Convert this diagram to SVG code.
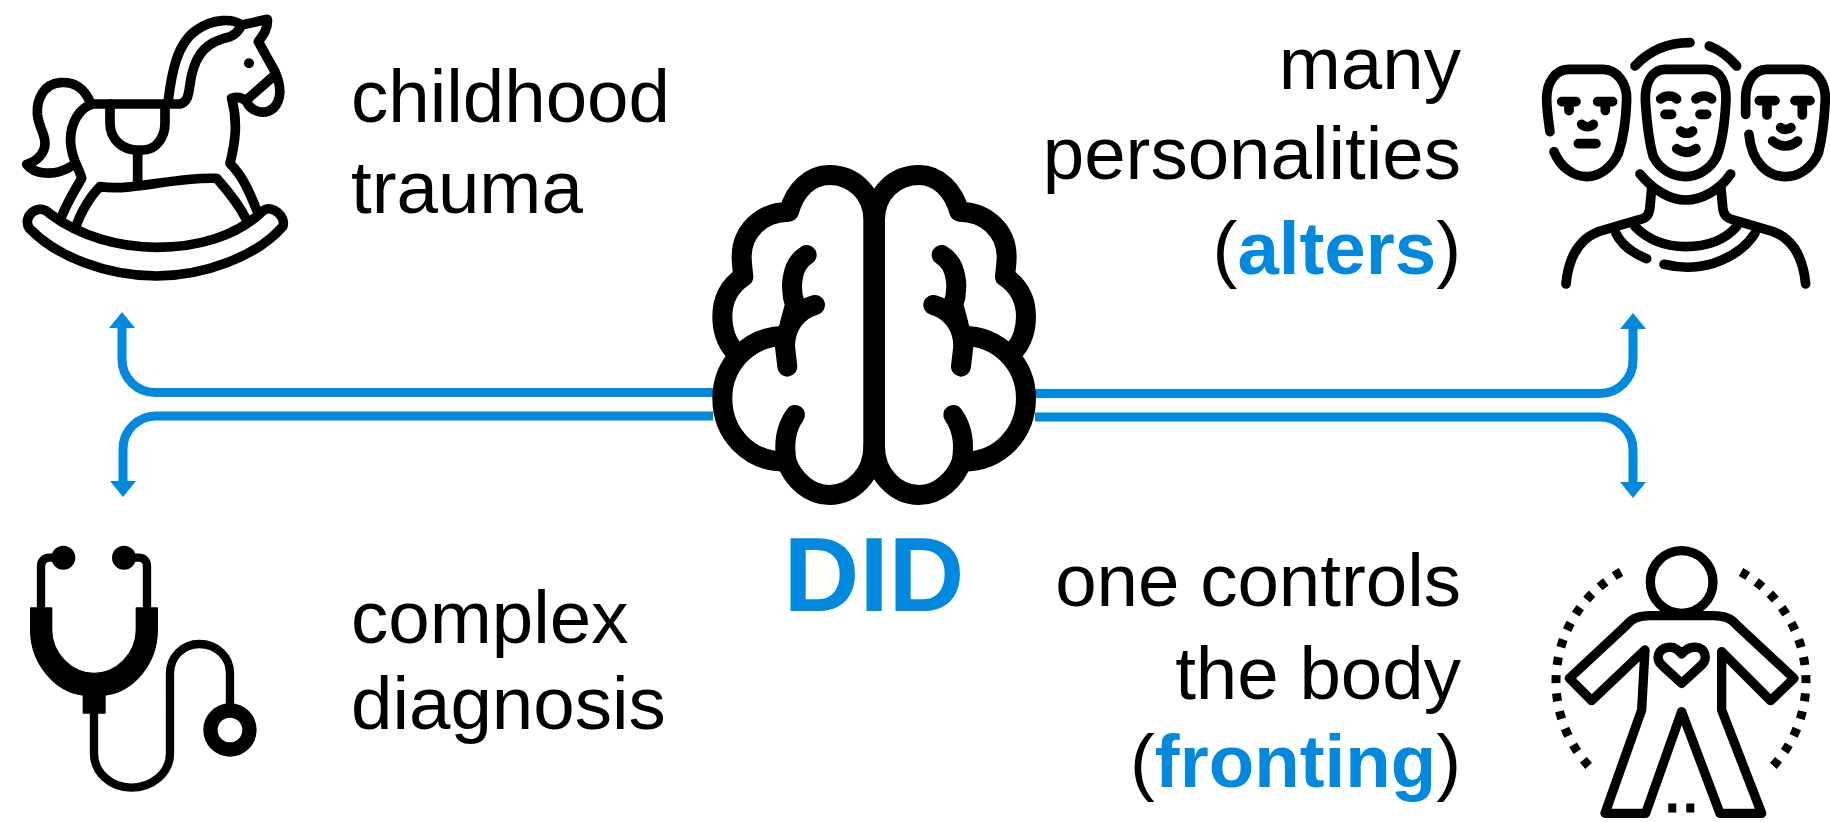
<svg xmlns="http://www.w3.org/2000/svg" width="1830" height="822" viewBox="0 0 1830 822">
<style>
text{font-family:"Liberation Sans",Arial,sans-serif;font-size:74.500px;fill:#000}
.r{text-anchor:end}
.b{font-weight:bold;fill:#0089df}
.i{fill:none;stroke:#000;stroke-linecap:round;stroke-linejoin:round}
.c{fill:none;stroke:#0089df;stroke-width:9}
.h{fill:#0089df}
</style>
<defs>
<g id="brain-half" class="i" stroke-width="60">
<path fill="#fff" stroke="none" d="M550 210C550 130 490 75 418 75C360 75 315 120 297 185C215 185 155 245 155 320C155 340 158 360 160 380C115 410 97 450 97 500C97 540 110 575 130 600C110 640 97 700 97 745C97 850 175 935 280 935C310 990 360 1035 418 1035C490 1035 550 970 550 890Z"/>
<path d="M550 890V210C550 130 490 75 418 75C360 75 315 120 297 185C215 185 155 245 155 320C155 340 158 360 160 380C115 410 97 450 97 500C97 540 110 575 130 600"/>
<path d="M285 558C175 558 97 645 97 745C97 850 175 935 285 935"/>
<path d="M550 890C550 970 490 1035 418 1035C360 1035 310 990 290 935C280 880 290 830 315 795"/>
<path d="M350 315C300 345 300 420 315 465L300 520M375 465C320 480 285 530 285 590L292 650"/>
</g>
</defs>
<rect width="1830" height="822" fill="#fff"/>
<g id="connectors">
<path class="c" d="M713 392.500H155A33 33 0 0 1 122 359.500V326"/>
<path class="h" d="M122 312L135 328H109Z"/>
<path class="c" d="M713 416H156A33 33 0 0 0 123 449V483"/>
<path class="h" d="M123 497L136 481H110Z"/>
<path class="c" d="M1035 393.500H1600A33 33 0 0 0 1633 360.500V326"/>
<path class="h" d="M1633 313L1646 329H1620Z"/>
<path class="c" d="M1035 417H1600A33 33 0 0 1 1633 450V483"/>
<path class="h" d="M1633 498L1646 482H1620Z"/>
</g>
<g id="horse" transform="scale(.3333)">
<g class="i" stroke-width="29">
<path d="M150 642C240 710 360 742 470 742C590 742 710 710 790 632C815 612 860 650 848 680C770 770 610 828 470 828C320 828 170 770 88 685C65 650 115 605 150 642Z"/>
<path d="M185 650C200 610 225 570 245 535C240 510 215 480 212 430C208 370 240 320 280 312H540C570 305 565 270 575 225C590 160 620 125 690 110C705 105 715 95 725 75L802 58C805 85 790 105 775 125L825 215C845 260 845 300 820 325C790 350 750 330 740 305C725 290 710 290 695 295C715 370 705 430 690 490C730 530 750 580 770 630"/>
<path d="M228 680C240 640 270 590 300 560C400 575 520 530 650 535C690 580 720 620 740 660"/>
<path d="M505 300C515 220 530 130 590 90C640 55 700 55 725 75"/>
<path d="M825 225L745 295"/>
<path d="M330 312V370C330 420 370 450 410 450H430C470 450 495 410 495 370V312M413 450V550"/>
<path d="M270 305C250 260 220 245 180 248C130 252 110 300 112 340C115 380 135 400 135 430C135 460 110 485 80 493C100 520 160 535 220 495"/>
</g>
<circle cx="747" cy="190" r="15"/>
</g>
<g id="faces" transform="translate(1520 20) scale(.3333)">
<g class="i" stroke-width="29">
<path d="M435 148H560C600 148 620 190 618 240C615 300 610 360 590 410C570 450 530 470 497 470C460 470 420 450 400 410C385 360 380 300 376 240C375 190 395 148 435 148Z"/>
<path d="M90 335C85 300 80 270 80 235C80 190 105 148 145 148H250C290 148 322 190 320 240C318 300 312 350 295 400C275 445 235 470 200 470C160 470 120 440 102 395"/>
<path d="M677 283V235C677 190 700 148 740 148H850C890 148 918 190 916 240C913 300 908 350 895 400C875 445 835 470 797 470C745 470 695 430 687 343"/>
<path d="M345 138C385 95 440 68 510 68M568 78C600 90 630 115 650 138"/>
<path d="M360 462C400 510 450 540 497 540C545 540 600 510 632 462"/>
<path d="M395 505L390 560C388 590 375 595 355 600L235 635C170 660 145 720 138 792M603 505L608 560C610 590 625 595 640 600L760 635C825 660 850 720 857 792"/>
<path d="M345 620C390 665 445 680 497 680C550 680 610 665 650 620"/>
<path d="M288 640C305 675 340 700 380 716M432 733C480 745 530 745 580 730C640 710 680 680 705 640"/>
<path d="M125 245H168M147 245V272M233 245H278M256 245V272M185 313C195 322 210 322 220 313M175 371H228"/>
<path d="M422 237C435 225 460 225 470 237M528 237C540 225 565 225 575 237M435 283H455M540 283H560M482 333C490 342 510 342 518 333M470 386C490 400 510 400 528 386"/>
<path d="M718 242H765M741 242V285M825 242H870M847 242V285M782 323C790 330 805 330 813 323M758 363C780 383 810 383 833 363"/>
</g>
</g>
<g id="brain" transform="translate(690 150) scale(.3333)">
<use href="#brain-half"/>
<use href="#brain-half" transform="translate(1105 0) scale(-1 1)"/>
</g>
<g id="stethoscope" transform="translate(0 520) scale(.3333)">
<circle cx="190" cy="113" r="36"/>
<circle cx="372" cy="113" r="36"/>
<g class="i" stroke-width="25">
<path d="M190 113H150C130 113 123 125 123 140V270M372 113H415C435 113 441 125 441 140V270"/>
<path d="M282 575V700C282 760 335 803 393 803C455 803 510 760 510 700V460C510 410 550 372 598 372C650 372 690 410 690 460V550"/>
</g>
<path stroke="#000" stroke-width="4" stroke-linejoin="round" d="M92 264H155V330C155 400 215 460 282 460C350 460 409 400 409 330V264H472V330C472 430 400 515 315 525V579H250V525C165 515 92 430 92 330Z"/>
<circle cx="690" cy="630" r="58.500" fill="none" stroke="#000" stroke-width="43"/>
</g>
<g id="body" transform="translate(1530 530) scale(.3333)">
<g class="i" stroke-width="28">
<circle cx="455" cy="156" r="94"/>
<path d="M345 360L185 512L118 445L290 285C305 265 330 257 360 257H550C580 257 605 265 620 285L792 445L722 512L575 365V540L695 850H570L455 545L347 850H225L335 540Z"/>
<path d="M455 460L395 405C375 385 385 355 415 352C435 350 445 360 455 372C465 360 480 350 500 352C525 355 535 385 515 405Z"/>
</g>
<g fill="none" stroke="#000" stroke-width="27" stroke-dasharray="24 30.500">
<path d="M273 126A375 375 0 0 0 197 729"/>
<path d="M633 126A375 375 0 0 1 709 729"/>
<path d="M415 834H439M469 834H493"/>
</g>
</g>
<g id="label-trauma"><text x="351" y="122">childhood</text><text x="351" y="213">trauma</text></g>
<g id="label-alters"><text class="r" x="1461" y="89">many</text><text class="r" x="1461" y="179">personalities</text><text class="r" x="1461" y="274">(<tspan class="b">alters</tspan>)</text></g>
<g id="label-diagnosis"><text x="351" y="643">complex</text><text x="351" y="729">diagnosis</text></g>
<g id="label-fronting"><text class="r" x="1461" y="606">one controls</text><text class="r" x="1461" y="699">the body</text><text class="r" x="1461" y="787">(<tspan class="b">fronting</tspan>)</text></g>
<g id="label-did"><text class="b" x="874" y="611" text-anchor="middle" style="font-size:105px">DID</text></g>
</svg>
